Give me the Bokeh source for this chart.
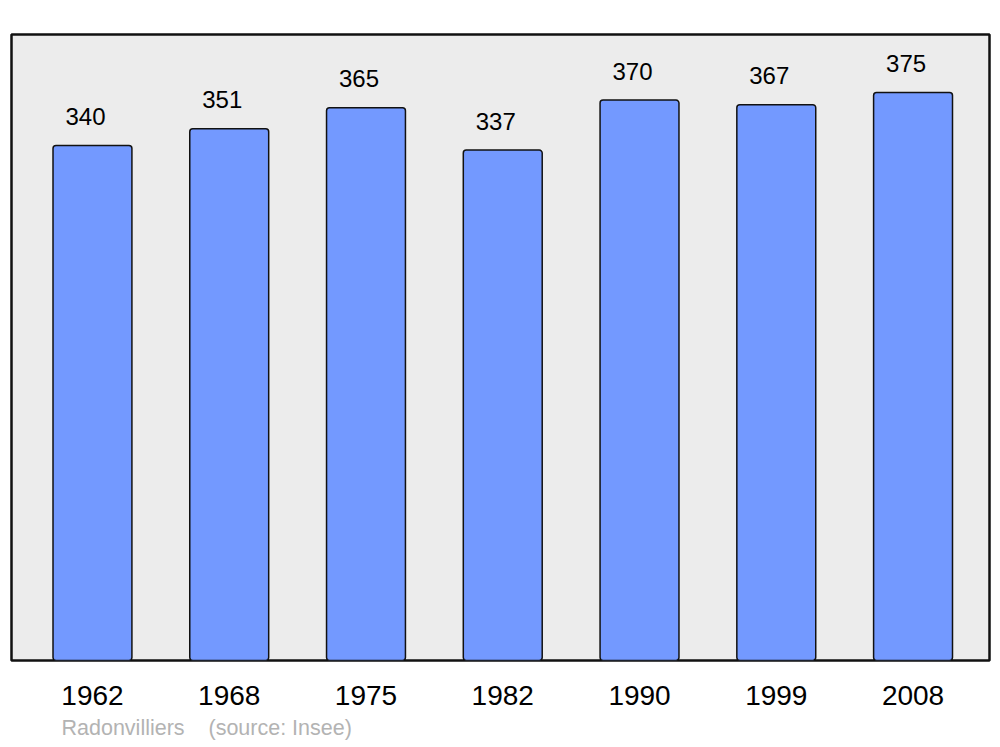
from bokeh.plotting import figure
from bokeh.models import Range1d, ColumnDataSource, FixedTicker, Title
from bokeh.core.properties import value
from bokeh.embed import file_html
from bokeh.resources import INLINE

years = ["1962", "1968", "1975", "1982", "1990", "1999", "2008"]
population = [340, 351, 365, 337, 370, 367, 375]
place = "Radonvilliers"
source_note = "(source: Insee)"

idx = list(range(len(years)))
src = ColumnDataSource(dict(x=idx, top=population, label=[str(v) for v in population]))

p = figure(width=992, height=739, output_backend="svg", toolbar_location=None,
           x_range=Range1d(-0.592, 6.559), y_range=Range1d(0, 413.3),
           frame_width=978, frame_height=626)
p.min_border = 0
p.min_border_left = 11
p.min_border_right = 3
p.min_border_top = 34
p.min_border_bottom = 79
p.background_fill_color = "#ececec"
p.border_fill_color = "white"
p.outline_line_color = "#111111"
p.outline_line_width = 2.5
p.xgrid.visible = False
p.ygrid.visible = False
p.yaxis.visible = False

p.vbar(x="x", top="top", bottom=0, width=0.577, source=src,
       fill_color="#7399ff", line_color="#111111", line_width=1.5,
       border_radius=3)

p.text(x="x", y="top", text="label", source=src, text_align="center",
       text_baseline="alphabetic", y_offset=-29, x_offset=-7,
       text_font=value("Liberation Sans"), text_font_size="24px", text_color="black")

ax = p.xaxis[0]
ax.ticker = FixedTicker(ticks=idx)
ax.major_label_overrides = {i: y for i, y in zip(idx, years)}
ax.axis_line_color = None
ax.major_tick_line_color = None
ax.minor_tick_line_color = None
ax.major_label_standoff = 19
ax.major_label_text_font = "Liberation Sans"
ax.major_label_text_font_size = "28px"
ax.major_label_text_color = "black"

footer = Title(text=place + "\u00a0\u00a0\u00a0\u00a0" + source_note, align="left", offset=50,
               text_font="Liberation Sans", text_font_size="21.5px",
               text_font_style="normal", text_color="#b3b3b3", standoff=13)
p.add_layout(footer, "below")

open("out.html", "w").write(file_html(p, INLINE))
